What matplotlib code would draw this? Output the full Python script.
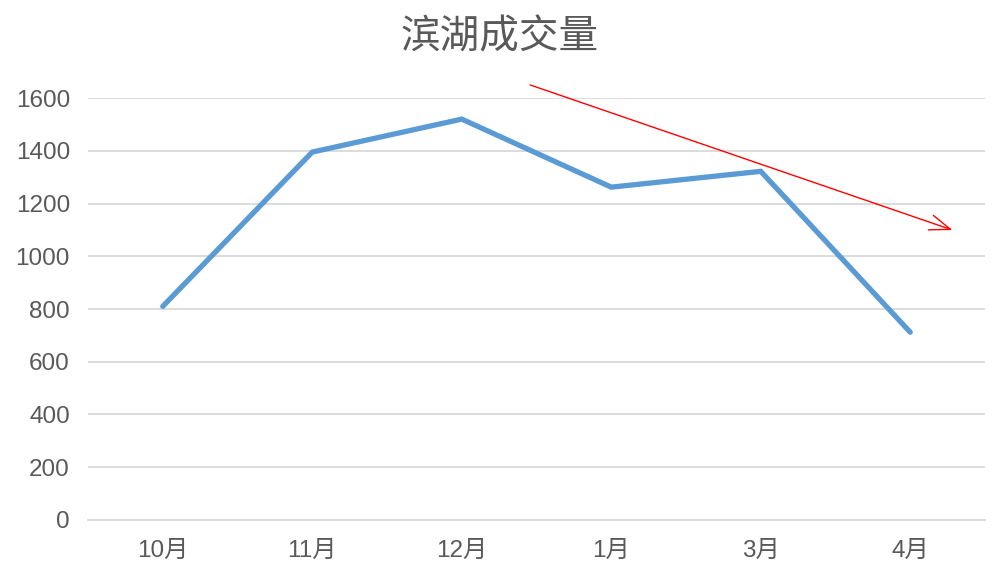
import matplotlib
matplotlib.use("Agg")
import matplotlib.pyplot as plt

plt.rcParams["font.family"] = ["Liberation Sans", "Noto Sans CJK SC", "DejaVu Sans"]

months = ["10月", "11月", "12月", "1月", "3月", "4月"]
volume = [810, 1395, 1520, 1262, 1322, 712]
y_ticks = [0, 200, 400, 600, 800, 1000, 1200, 1400, 1600]

# trend arrow (start, end) in data coords
trend_start = (2.44, 1653)
trend_end = (5.30, 1096)

fig = plt.figure(figsize=(10, 5.81), dpi=100)
ax = fig.add_axes([0.088, 0.105, 0.897, 0.7263])

x = list(range(len(months)))
ax.plot(x, volume, color="#5B9BD5", linewidth=3.8, solid_capstyle="round",
        solid_joinstyle="miter", zorder=3)

ax.set_xlim(-0.5, len(months) - 0.5)
ax.set_ylim(0, 1600)
ax.set_yticks(y_ticks)
ax.set_xticks(x)
ax.set_xticklabels(months)
ax.grid(axis="y", color="#D9D9D9", linewidth=1.3)
ax.set_axisbelow(True)
for s in ["top", "right", "left"]:
    ax.spines[s].set_visible(False)
ax.spines["bottom"].set_color("#D9D9D9")
ax.spines["bottom"].set_linewidth(1.3)
ax.tick_params(axis="both", length=0, labelsize=17.5, labelcolor="#595959")
ax.tick_params(axis="y", pad=13)
ax.tick_params(axis="x", pad=14)

fig.suptitle("滨湖成交量", fontsize=28.5, color="#595959", y=0.97,
             family=["Noto Sans CJK SC", "DejaVu Sans"])

ax.annotate("", xy=trend_end, xytext=trend_start, annotation_clip=False,
            arrowprops=dict(arrowstyle="->,head_length=1.5,head_width=0.55",
                            color="red", linewidth=1.0))

fig.savefig("out.png", dpi=100)
